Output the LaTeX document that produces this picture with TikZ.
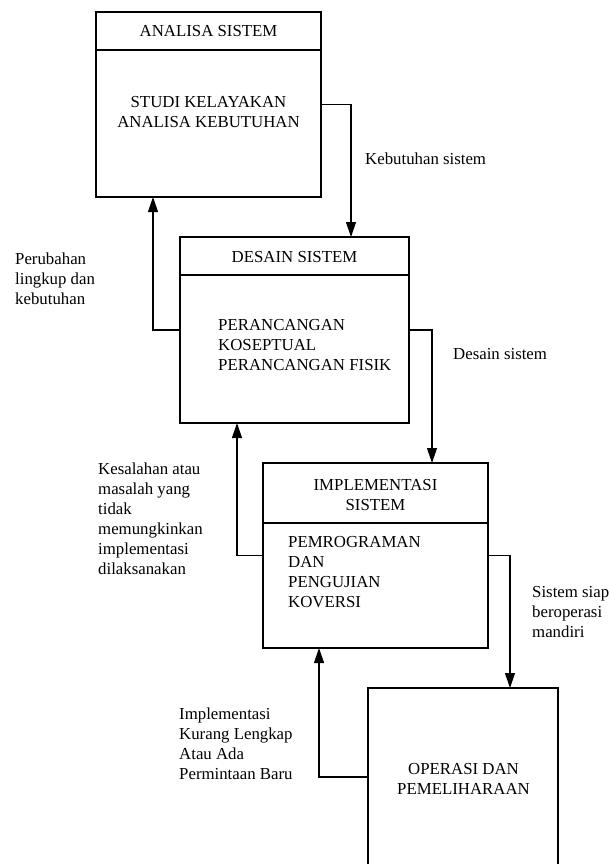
\documentclass[tikz,border=0pt]{standalone}
\usepackage{fontspec}
\setmainfont{Liberation Serif}
\usetikzlibrary{arrows.meta}
\tikzstyle{phase}=[draw, line width=1.2pt, inner sep=0pt]
\tikzstyle{txt}=[inner sep=0pt, font=\fontsize{16.8}{20}\selectfont]
\tikzstyle{ltxt}=[txt, align=left, anchor=base west]
\tikzstyle{ctxt}=[txt, align=center, anchor=base]
\tikzstyle{sep}=[line width=1.2pt]
\tikzstyle{flow}=[line width=1.2pt, -{Triangle[length=15pt, width=10pt]}]

\begin{document}
\begin{tikzpicture}[x=1pt, y=-1pt]
        \useasboundingbox (0,0) rectangle (609,864);
        \clip (0,0) rectangle (609,864);
        % the four phases
        \node[phase, minimum width=225pt, minimum height=185pt] (analisa) at (208.5, 104.5) {};
        \node[phase, minimum width=229pt, minimum height=186pt] (desain)  at (294.5, 330) {};
        \node[phase, minimum width=225pt, minimum height=185pt] (impl)    at (375.5, 555.5) {};
        \node[phase, minimum width=190pt, minimum height=178pt] (operasi) at (463, 777) {};
        \coordinate (h1) at (0, 50);
        \coordinate (h2) at (0, 275);
        \coordinate (h3) at (0, 523);
        \draw[sep] (analisa.west |- h1) -- (analisa.east |- h1);
        \draw[sep] (desain.west |- h2) -- (desain.east |- h2);
        \draw[sep] (impl.west |- h3) -- (impl.east |- h3);
        % texts in the boxes (base = last line)
        \node[ctxt] (analisaT) at (208.5, 37) {ANALISA SISTEM};
        \node[ctxt] (analisaB) at (208.5, 128) {STUDI KELAYAKAN\\ANALISA KEBUTUHAN};
        \node[ctxt] (desainT)  at (294.5, 262.5) {DESAIN SISTEM};
        \node[ltxt] (desainB)  at (218, 370.5) {PERANCANGAN\\KOSEPTUAL\\PERANCANGAN FISIK};
        \node[ctxt] (implT)    at (375.5, 510) {IMPLEMENTASI\\SISTEM};
        \node[ltxt] (implB)    at (288, 607) {PEMROGRAMAN\\DAN\\PENGUJIAN\\KOVERSI};
        \node[ctxt] (operasiT) at (463.5, 794.5) {OPERASI DAN\\PEMELIHARAAN};
        % connectors
        \coordinate (in2)  at (351, 237);
        \coordinate (in3)  at (432, 463);
        \coordinate (in4)  at (510, 688);
        \coordinate (out1) at (153, 197);
        \coordinate (out2) at (237, 423);
        \coordinate (out3) at (319, 648);
        \draw[flow] (analisa.east) -| (in2);
        \draw[flow] (desain.east) -| (in3);
        \draw[flow] (impl.east) -| (in4);
        \draw[flow] (desain.west) -| (out1);
        \draw[flow] (impl.west) -| (out2);
        \draw[flow] (operasi.west) -| (out3);
        \node[ltxt] (L1) at (365, 164.5) {Kebutuhan sistem};
        \node[ltxt] (L2) at (453, 359.5) {Desain sistem};
        \node[ltxt] (L3) at (532, 637) {Sistem siap\\beroperasi\\mandiri};
        \node[ltxt] (L4) at (15, 304.5) {Perubahan\\lingkup dan\\kebutuhan};
        \node[ltxt] (L5) at (98, 574.5) {Kesalahan atau\\masalah yang\\tidak\\memungkinkan\\implementasi\\dilaksanakan};
        \node[ltxt] (L6) at (179, 779.5) {Implementasi\\Kurang Lengkap\\Atau Ada\\Permintaan Baru};
    \end{tikzpicture}
\end{document}
